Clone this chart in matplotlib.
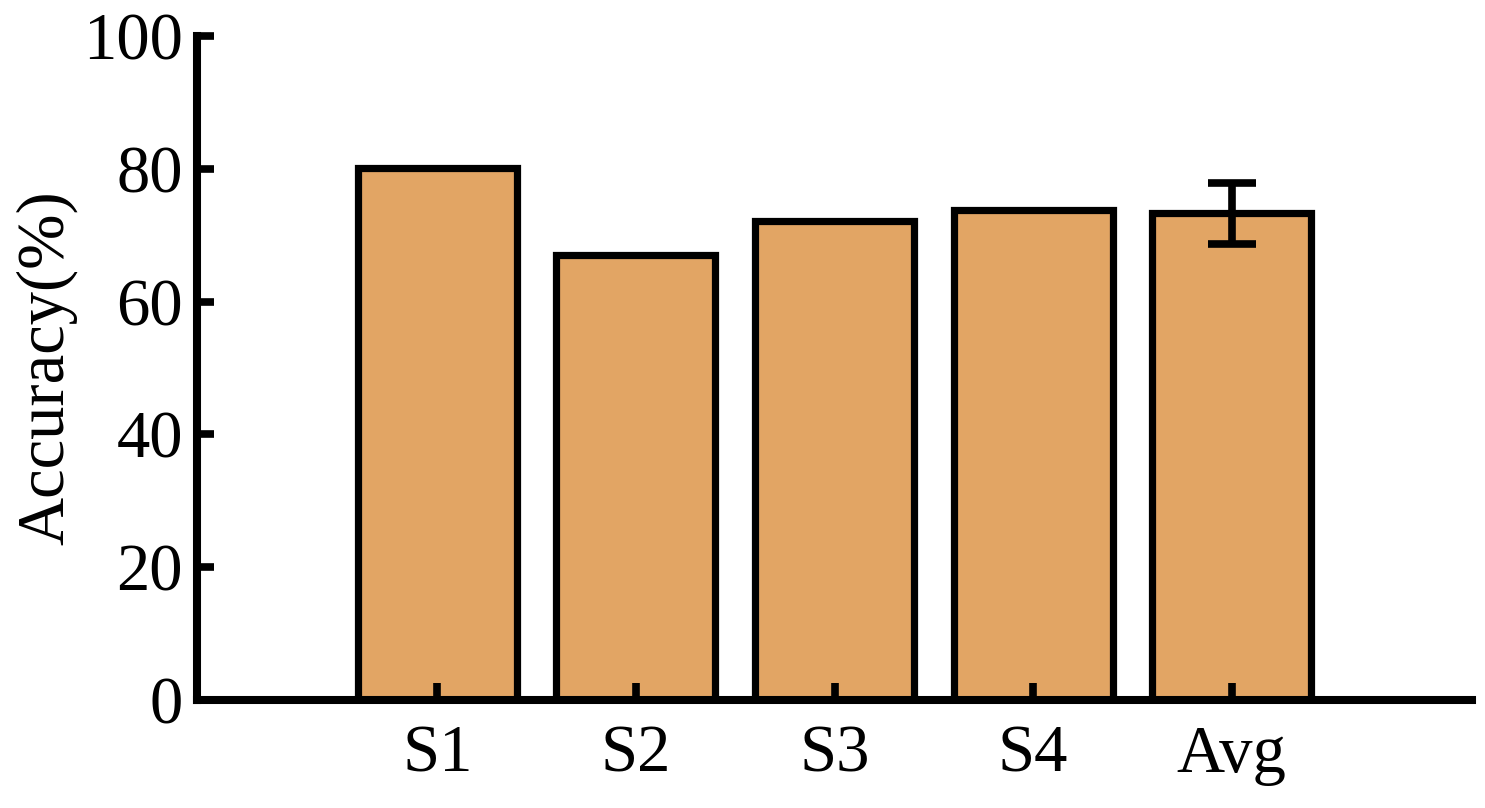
import numpy as np
import matplotlib
matplotlib.use("Agg")
import matplotlib.pyplot as plt

subjects = ["S1", "S2", "S3", "S4", "Avg"]
accuracy = [80.1, 67.0, 72.1, 73.8, 73.3]
errors = [0, 0, 0, 0, 4.6]
y_ticks = [0, 20, 40, 60, 80, 100]

BAR_COLOR = "#E2A564"

plt.rcParams["font.family"] = ["Liberation Serif", "DejaVu Serif"]

fig = plt.figure(figsize=(14.85, 8.08), dpi=100)
ax = fig.add_axes([197/1485, 1 - 700/808, (1472-197)/1485, (700-36)/808])

x = np.arange(len(subjects))
ax.bar(x, accuracy, width=0.8, color=BAR_COLOR, edgecolor="black", linewidth=5.2, zorder=2)
# error bar only on the average
ax.errorbar(x[-1:], accuracy[-1:], yerr=errors[-1:], fmt="none", ecolor="black",
            elinewidth=5.5, capsize=17, capthick=5.5, zorder=3)

ax.set_axisbelow(False)  # keep inward x ticks visible over the bars
ax.set_xlim(-1.21, 5.21)
ax.set_ylim(0, 100)
ax.set_yticks(y_ticks)
ax.set_xticks(x)
ax.set_xticklabels(subjects)
ax.set_ylabel("Accuracy(%)", fontsize=48, labelpad=4)

for sp in ["top", "right"]:
    ax.spines[sp].set_visible(False)
for sp in ["left", "bottom"]:
    ax.spines[sp].set_linewidth(5.8)
    ax.spines[sp].set_zorder(4)

ax.tick_params(axis="both", direction="in", length=12, width=5.5, labelsize=48, pad=10)
ax.tick_params(axis="x", pad=18)

fig.savefig("out.png", dpi=100)
